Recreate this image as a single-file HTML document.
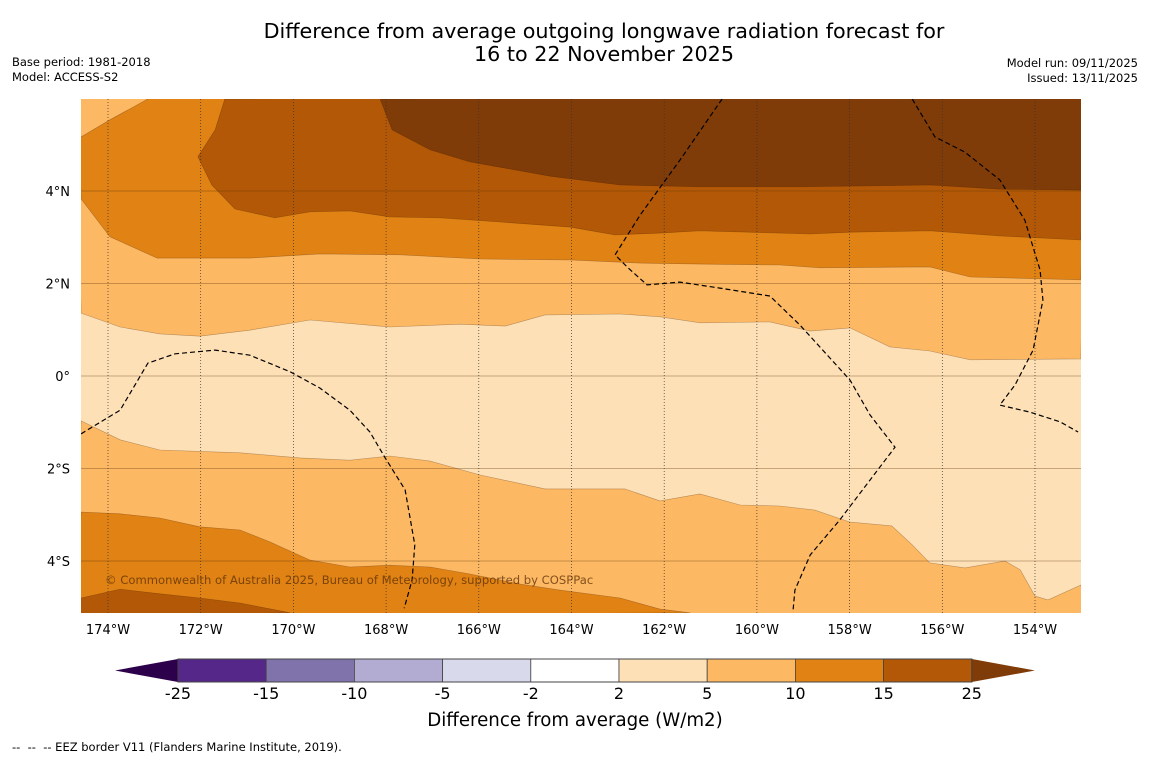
<!DOCTYPE html>
<html><head><meta charset="utf-8"><style>
body{margin:0;background:#fff;width:1150px;height:758px;overflow:hidden;font-family:"DejaVu Sans","Liberation Sans",sans-serif;}
svg text{font-family:"DejaVu Sans","Liberation Sans",sans-serif;}
</style></head><body>
<svg id="chart" width="1150" height="758" viewBox="0 0 1150 758" xmlns="http://www.w3.org/2000/svg">
<text x="604" y="38" font-size="20.7" text-anchor="middle" fill="#000">Difference from average outgoing longwave radiation forecast for</text>
<text x="604" y="61" font-size="20.7" text-anchor="middle" fill="#000">16 to 22 November 2025</text>
<text x="12" y="66" font-size="11.5">Base period: 1981-2018</text>
<text x="12" y="81" font-size="11.5">Model: ACCESS-S2</text>
<text x="1138" y="67" font-size="11.5" text-anchor="end">Model run: 09/11/2025</text>
<text x="1138" y="82" font-size="11.5" text-anchor="end">Issued: 13/11/2025</text>
<defs><clipPath id="mapclip"><rect x="81" y="99" width="1000" height="514"/></clipPath></defs>
<g id="map" clip-path="url(#mapclip)"></g>
<g id="axes"></g>
<g id="cbar"></g>
<text x="575" y="726" font-size="18.2" text-anchor="middle">Difference from average (W/m2)</text>
<text x="12" y="751" font-size="11.5" xml:space="preserve" style="white-space:pre">--  --  -- EEZ border V11 (Flanders Marine Institute, 2019).</text>
</svg>
<script>
const lonTicks=[-174,-172,-170,-168,-166,-164,-162,-160,-158,-156,-154];
const latTicks=[4,2,0,-2,-4];
const cbLevels=["-25","-15","-10","-5","-2","2","5","10","15","25"];
const cbColors=["#542788","#8073ac","#b2abd2","#d8daeb","#ffffff","#fee0b6","#fdb863","#e08214","#b35806"];
const topC5=[[-174.58,1.36],[-173.74,1.06],[-172.88,0.91],[-172.02,0.86],[-170.94,0.99],[-169.64,1.21],[-167.92,1.06],[-166.41,1.12],[-165.43,1.08],[-164.57,1.32],[-162.95,1.34],[-162.09,1.28],[-161.23,1.15],[-159.72,1.17],[-158.85,0.97],[-157.99,1.04],[-157.13,0.63],[-156.27,0.54],[-155.4,0.35],[-153.01,0.37]];
const topC10=[[-174.58,3.83],[-173.96,3.01],[-172.94,2.55],[-170.94,2.55],[-169.43,2.64],[-167.7,2.62],[-165.97,2.53],[-164.03,2.51],[-162.52,2.44],[-161.23,2.42],[-159.5,2.4],[-158.64,2.34],[-156.27,2.36],[-155.4,2.14],[-153.01,2.08]];
const cornerC5=[[-174.58,5.17],[-173.96,5.54],[-173.14,5.99]];
const topC15=[[-171.48,5.99],[-171.69,5.32],[-172.06,4.74],[-171.76,4.13],[-171.26,3.61],[-170.4,3.42],[-169.64,3.55],[-168.78,3.57],[-167.92,3.44],[-166.84,3.42],[-165.54,3.33],[-164.03,3.22],[-163.06,3.05],[-162.09,3.09],[-161.23,3.14],[-160.15,3.11],[-158.85,3.07],[-157.99,3.11],[-156.27,3.14],[-154.76,3.03],[-153.01,2.94]];
const topC25=[[-168.13,5.99],[-167.87,5.32],[-167.05,4.89],[-166.19,4.63],[-164.46,4.32],[-162.95,4.13],[-161.23,4.09],[-159.07,4.09],[-156.27,4.13],[-154.76,4.04],[-153.01,4.02]];
const botC5=[[-174.58,-0.97],[-173.74,-1.38],[-172.88,-1.6],[-171.15,-1.66],[-169.86,-1.77],[-168.78,-1.82],[-167.92,-1.73],[-167.05,-1.84],[-165.97,-2.14],[-164.57,-2.44],[-162.85,-2.44],[-162.09,-2.7],[-161.23,-2.55],[-160.36,-2.79],[-159.5,-2.81],[-158.75,-2.9],[-157.99,-3.16],[-157.09,-3.24],[-156.65,-3.65],[-156.27,-4.04],[-155.51,-4.15],[-154.65,-4],[-154.32,-4.19],[-154,-4.76],[-153.72,-4.84],[-153.01,-4.52]];
const botC10=[[-174.58,-2.94],[-173.74,-2.98],[-172.88,-3.07],[-172.02,-3.26],[-171.15,-3.33],[-170.5,-3.59],[-169.64,-3.98],[-168.78,-4.13],[-167.92,-4.09],[-167.05,-4.13],[-166.19,-4.28],[-165.11,-4.5],[-164.25,-4.63],[-162.95,-4.8],[-162.09,-5.04],[-161.44,-5.12]];
const botC15=[[-174.58,-4.8],[-173.74,-4.61],[-172.88,-4.71],[-172.02,-4.8],[-171.15,-4.91],[-170.07,-5.12]];
const eezA=[[-174.58,-1.25],[-173.74,-0.74],[-173.14,0.28],[-172.55,0.48],[-171.69,0.56],[-170.94,0.45],[-170.07,0.09],[-169.43,-0.26],[-168.78,-0.74],[-168.35,-1.21],[-168.02,-1.77],[-167.59,-2.46],[-167.38,-3.65],[-167.44,-4.41],[-167.61,-5.02]];
const eezB=[[-160.75,5.99],[-161.66,4.67],[-162.52,3.48],[-163.06,2.62],[-162.78,2.34],[-162.37,1.97],[-161.66,2.03],[-160.8,1.9],[-159.72,1.73],[-159.07,1.1],[-157.99,-0.09],[-157.56,-0.84],[-157.02,-1.54],[-157.56,-2.25],[-158.21,-3.11],[-158.85,-3.87],[-159.18,-4.63],[-159.22,-5.06]];
const eezC=[[-156.65,5.99],[-156.16,5.17],[-155.51,4.84],[-154.76,4.24],[-154.22,3.37],[-153.89,2.29],[-153.83,1.64],[-154.04,0.56],[-154.43,-0.19],[-154.76,-0.63],[-154.11,-0.78],[-153.46,-0.99],[-153.07,-1.21]];

const NS="http://www.w3.org/2000/svg";
const X=lon=>108+(lon+174)*46.35;
const Y=lat=>376-lat*46.25;
const L=-174.7,R=-152.9,T=6.1,B=-5.2;
const map=document.getElementById('map'),axes=document.getElementById('axes'),cbar=document.getElementById('cbar');
function mk(tag,attrs,parent){const e=document.createElementNS(NS,tag);for(const k in attrs)e.setAttribute(k,attrs[k]);parent.appendChild(e);return e;}
const pts=a=>a.map(p=>X(p[0]).toFixed(1)+','+Y(p[1]).toFixed(1)).join(' ');

let bg=mk('rect',{x:81,y:99,width:1000,height:514,fill:'#fee0b6'},map);


function band(line,closing,fill,name){
  const p=mk('polygon',{points:pts(line.concat(closing)),fill:fill,stroke:'rgba(60,30,0,0.35)','stroke-width':0.6},map);
  
  
}
band(topC5,[[R,T],[L,T]],'#fdb863','band-top-5-to-10');
band(topC10,[[R,T],[L,T]],'#e08214','band-top-10-to-15');
band(cornerC5,[[L,T]],'#fdb863','band-corner-5-to-10');
band(topC15,[[R,T]],'#b35806','band-top-15-to-25');
band(topC25,[[R,T]],'#7f3b08','band-top-above-25');
band(botC5,[[R,B],[L,B]],'#fdb863','band-bottom-5-to-10');
band(botC10,[[L,B]],'#e08214','band-bottom-10-to-15');
band(botC15,[[L,B]],'#b35806','band-bottom-15-to-25');

lonTicks.forEach(v=>{
  const l=mk('line',{x1:X(v),x2:X(v),y1:99,y2:613,stroke:'#333','stroke-width':0.7,'stroke-dasharray':'1,2'},map);
  
  
  const t=mk('text',{x:X(v),y:634,'font-size':13,'text-anchor':'middle'},axes);
  t.textContent=Math.abs(v)+'°W';
  
  
});
latTicks.forEach(v=>{
  const l=mk('line',{x1:81,x2:1081,y1:Y(v),y2:Y(v),stroke:'rgba(90,50,10,0.45)','stroke-width':0.8},map);
  
  
  const t=mk('text',{x:70,y:Y(v)+5,'font-size':13,'text-anchor':'end'},axes);
  t.textContent=v===0?'0°':Math.abs(v)+'°'+(v>0?'N':'S');
  
  
});
[eezA,eezB,eezC].forEach(a=>{
  const p=mk('polyline',{points:pts(a),fill:'none',stroke:'#000','stroke-width':1.2,'stroke-dasharray':'5,3'},map);
  
  
});
const cp=mk('text',{x:105,y:584,'font-size':11.6,fill:'rgba(90,45,5,0.75)'},map);
cp.textContent='© Commonwealth of Australia 2025, Bureau of Meteorology, supported by COSPPac';



const cx0=178,cw=88.2,cy=659,ch=23;
const lt=mk('polygon',{points:`${cx0},${cy} ${cx0},${cy+ch} 115,${cy+ch/2}`,fill:'#2d004b'},cbar);


cbColors.forEach((c,i)=>{
  const r=mk('rect',{x:cx0+i*cw,y:cy,width:cw,height:ch,fill:c,stroke:'#444','stroke-width':0.8},cbar);
  
  
});
const xe=cx0+cbColors.length*cw;
const rt=mk('polygon',{points:`${xe},${cy} ${xe},${cy+ch} 1035,${cy+ch/2}`,fill:'#7f3b08'},cbar);


mk('rect',{x:cx0,y:cy,width:cbColors.length*cw,height:ch,fill:'none',stroke:'#444','stroke-width':1},cbar);
cbLevels.forEach((s,i)=>{
  const t=mk('text',{x:cx0+i*cw,y:699,'font-size':16,'text-anchor':'middle'},cbar);
  t.textContent=s;
  
  
});
</script>
</body></html>
